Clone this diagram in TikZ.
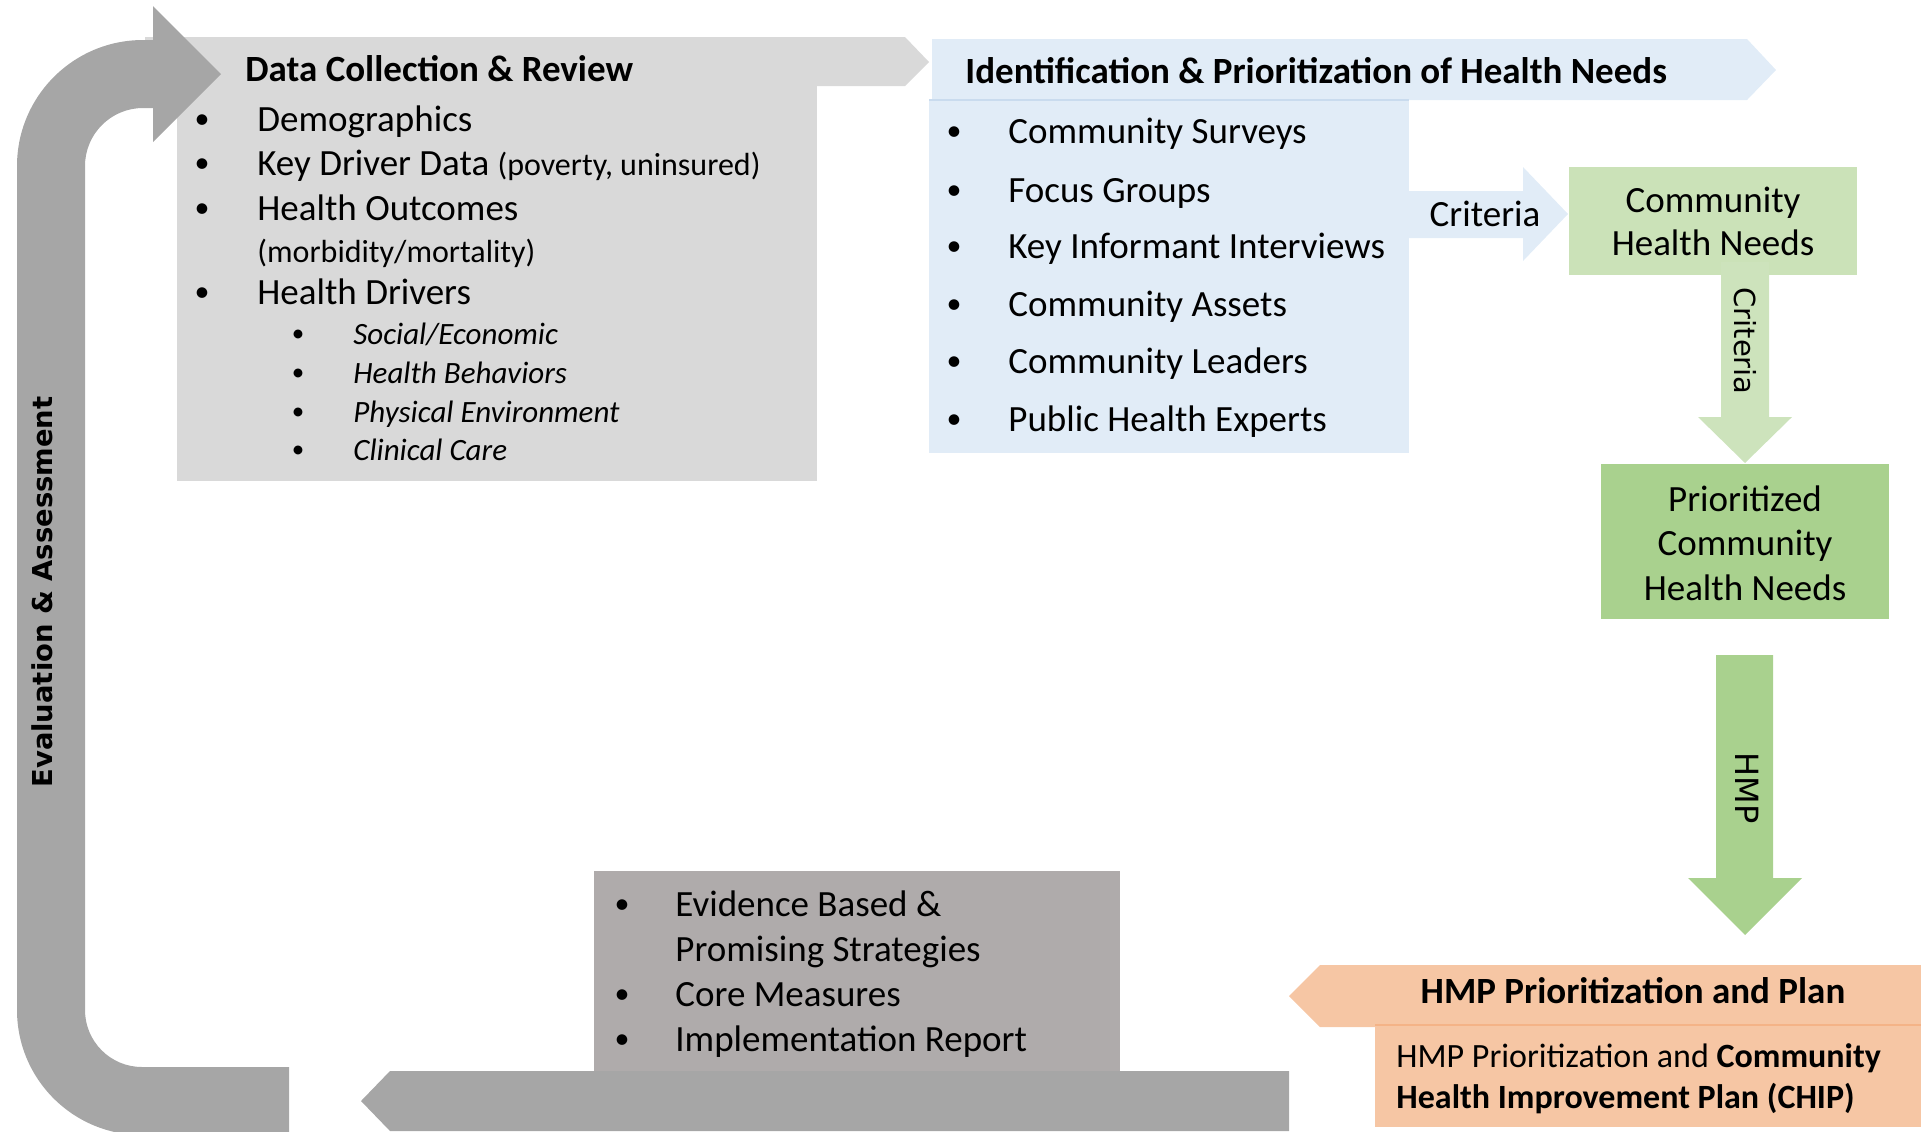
\documentclass[tikz,border=0pt]{standalone}
\usepackage{fontspec}
\setmainfont{Carlito}
\newfontfamily\dvsans{DejaVu Sans}
\definecolor{grayL}{HTML}{D9D9D9}
\definecolor{grayD}{HTML}{A6A6A6}
\definecolor{grayB}{HTML}{AFABAB}
\definecolor{blueL}{HTML}{E1ECF7}
\definecolor{blueLine}{HTML}{C9DBEE}
\definecolor{greenL}{HTML}{CBE2B8}
\definecolor{greenA}{HTML}{CDE3BC}
\definecolor{greenM}{HTML}{A9D18E}
\definecolor{orangeF}{HTML}{F6C6A4}
\definecolor{orangeLine}{HTML}{F4B387}
\newcommand\fmain{\fontsize{18.5}{22}\selectfont}
\newcommand\fsubt{\fontsize{16}{19}\selectfont}
\newcommand\fital{\fontsize{15.5}{18}\selectfont\itshape}
\newcommand\forg{\fontsize{17}{20}\selectfont}
\newcommand\fbul{\fontsize{15}{17}\selectfont}
\newcommand\fbuls{\fontsize{12.5}{14}\selectfont}
\tikzset{
  txt/.style={inner sep=0pt, text height=0.62em, text depth=0pt, font=\fmain},
  tw/.style={txt, anchor=west},
  bul/.style={txt, anchor=center, font=\fbul, yshift=1.5pt},
  sbul/.style={txt, anchor=center, font=\fbuls, yshift=1.2pt},
  hdr/.style={tw, font=\fmain\bfseries},
}
\begin{document}
\begin{tikzpicture}[x=0.5pt,y=-0.5pt]
\useasboundingbox (0,0) rectangle (1921,1131);
% ---- Data collection (light gray)
\fill[grayL] (145,37) -- (905,37) -- (929,62) -- (905,86) -- (145,86) -- cycle;
\fill[grayL] (177,86) rectangle (817,481);
% ---- big U arrow
\fill[grayD] (289,1067) -- (142,1067) arc[start angle=90,end angle=180,radius=57]
  -- (85,166) arc[start angle=180,end angle=270,radius=58]
  -- (153,108) -- (153,142) -- (221,74) -- (153,6) -- (153,40) -- (143,40)
  arc[start angle=270,end angle=180,radius=126]
  -- (17,1010) arc[start angle=180,end angle=90,radius=125]
  -- (289,1135) -- cycle;
% ---- Identification (blue)
\fill[blueL] (932,39) -- (1747,39) -- (1776,70) -- (1747,100) -- (932,100) -- cycle;
\fill[blueL] (929,100) rectangle (1409,453);
\draw[blueLine, line width=1pt] (929,100) -- (1409,100);
\fill[blueL] (1409,191) -- (1523,191) -- (1523,167) -- (1568,214) -- (1523,261) -- (1523,238) -- (1409,238) -- cycle;
% ---- green
\fill[greenL] (1569,167) rectangle (1857,275);
\fill[greenA] (1721,262) -- (1769,262) -- (1769,417) -- (1792,417) -- (1745,463) -- (1698,417) -- (1721,417) -- cycle;
\fill[greenM] (1601,464) rectangle (1889,619);
\fill[greenM] (1716,655) -- (1773,655) -- (1773,878) -- (1802,878) -- (1745,935) -- (1688,878) -- (1716,878) -- cycle;
% ---- bottom gray
\fill[grayB] (594,871) rectangle (1120,1071);
\fill[grayD] (1289,1071) -- (390,1071) -- (361,1101) -- (390,1131) -- (1289,1131) -- cycle;
% ---- orange
\fill[orangeF] (1289,996) -- (1320,965) -- (1921,965) -- (1921,1027) -- (1320,1027) -- cycle;
\fill[orangeF] (1375,1025) rectangle (1921,1127);
\draw[orangeLine, line width=1pt] (1375,1025) -- (1921,1025);

% ---- texts: data collection
\node[hdr] (dcr) at (245,75) {Data Collection \& Review};
\node[bul] (b1) at (202,125) {•};
\node[tw] (d1) at (257,125) {Demographics};
\node[bul] (b2) at (202,169) {•};
\node[tw] (d2) at (257,169) {Key Driver Data {\fsubt (poverty, uninsured)}};
\node[bul] (b3) at (202,214) {•};
\node[tw] (d3) at (257,214) {Health Outcomes};
\node[tw, font=\fsubt] (d3b) at (257,256) {(morbidity/mortality)};
\node[bul] (b4) at (202,298) {•};
\node[tw] (d4) at (257,298) {Health Drivers};
\node[sbul] (s1b) at (298,338) {•};
\node[tw, font=\fital] (s1) at (353,338) {Social/Economic};
\node[sbul] (s2b) at (298,377) {•};
\node[tw, font=\fital] (s2) at (353,377) {Health Behaviors};
\node[sbul] (s3b) at (298,416) {•};
\node[tw, font=\fital] (s3) at (353,416) {Physical Environment};
\node[sbul] (s4b) at (298,454) {•};
\node[tw, font=\fital] (s4) at (353,454) {Clinical Care};

% ---- texts: identification
\node[hdr] (iph) at (965,77) {Identification \& Prioritization of Health Needs};
\node[bul] (c1b) at (954,137) {•};
\node[tw] (c1) at (1008,137) {Community Surveys};
\node[bul] (c2b) at (954,196) {•};
\node[tw] (c2) at (1008,196) {Focus Groups};
\node[bul] (c3b) at (954,252) {•};
\node[tw] (c3) at (1008,252) {Key Informant Interviews};
\node[bul] (c4b) at (954,310) {•};
\node[tw] (c4) at (1008,310) {Community Assets};
\node[bul] (c5b) at (954,367) {•};
\node[tw] (c5) at (1008,367) {Community Leaders};
\node[bul] (c6b) at (954,425) {•};
\node[tw] (c6) at (1008,425) {Public Health Experts};
\node[txt] (crit1) at (1485,220) {Criteria};

% ---- green texts
\node[txt] (chn1) at (1713,206) {Community};
\node[txt] (chn2) at (1713,249) {Health Needs};
\node[txt, font=\dvsans\fontsize{14.5}{17}\selectfont, rotate=-90] (crit2) at (1741,341) {Criteria};
\node[txt] (p1) at (1745,505) {Prioritized};
\node[txt] (p2) at (1745,549) {Community};
\node[txt] (p3) at (1745,594) {Health Needs};
\node[txt, font=\dvsans\fontsize{16}{19}\selectfont, rotate=-90] (hmp) at (1742,788) {HMP};

% ---- orange texts
\node[txt, font=\fmain\bfseries] (oh) at (1633,997) {HMP Prioritization and Plan};
\node[tw, font=\forg] (o1) at (1396,1061) {HMP Prioritization and \textbf{Community}};
\node[tw, font=\forg\bfseries] (o2) at (1396,1102) {Health Improvement Plan (CHIP)};

% ---- bottom gray box texts
\node[bul] (e1b) at (622,910) {•};
\node[tw] (e1) at (675,910) {Evidence Based \&};
\node[tw] (e1c) at (675,955) {Promising Strategies};
\node[bul] (e2b) at (622,1000) {•};
\node[tw] (e2) at (675,1000) {Core Measures};
\node[bul] (e3b) at (622,1045) {•};
\node[tw] (e3) at (675,1045) {Implementation Report};

% ---- evaluation label
\node[txt, font=\dvsans\bfseries\fontsize{13.7}{16}\selectfont, rotate=90] (eva) at (46,592) {Evaluation \& Assessment};
\end{tikzpicture}
\end{document}
